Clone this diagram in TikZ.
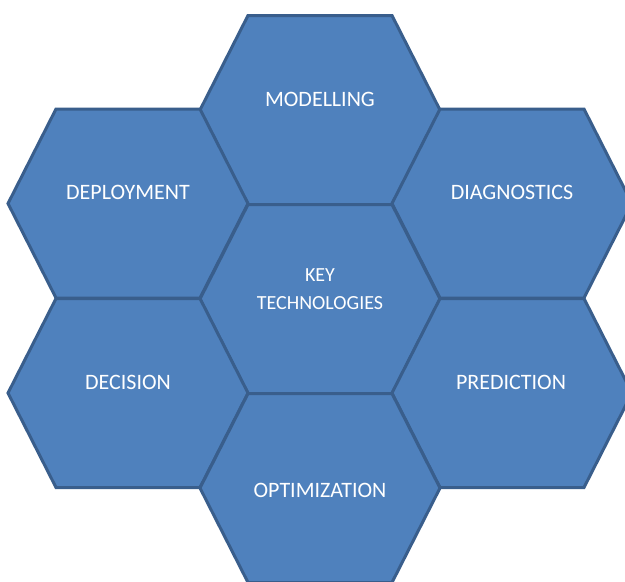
\documentclass[tikz,border=0pt]{standalone}
\usepackage{fontspec}
\setmainfont{Carlito}
\definecolor{cellfill}{HTML}{4F81BD}
\definecolor{celledge}{HTML}{395E8C}
\tikzset{
  hexcell/.style={fill=cellfill, draw=celledge, line width=3pt, line join=miter},
  celllabel/.style={text=white, inner sep=0pt, font=\fontsize{22}{26}\selectfont},
  corelabel/.style={text=white, inner sep=0pt, align=center, font=\fontsize{20}{28}\selectfont},
}
% honeycomb cell: centre (#1,#2); half width 120, half top edge 72, half height 94.5
\newcommand{\honeycell}[2]{%
  \draw[hexcell] (#1-72,#2-94.5) -- (#1+72,#2-94.5) -- (#1+120,#2) --
    (#1+72,#2+94.5) -- (#1-72,#2+94.5) -- (#1-120,#2) -- cycle;}
\begin{document}
\begin{tikzpicture}[x=1pt,y=-1pt]
  \useasboundingbox (0,0) rectangle (625,582);
  \clip (0,0) rectangle (625,582);
  % outer ring and core
  \honeycell{320}{110}
  \honeycell{128}{203.5}
  \honeycell{512}{203.5}
  \honeycell{320}{299}
  \honeycell{128}{393}
  \honeycell{512}{393}
  \honeycell{320}{488}
  % labels
  \node[celllabel] (modelling)   at (320,99)  {MODELLING};
  \node[celllabel] (deployment)  at (128,192) {DEPLOYMENT};
  \node[celllabel] (diagnostics) at (512,192) {DIAGNOSTICS};
  \node[corelabel] (core)        at (320,289) {KEY\\TECHNOLOGIES};
  \node[celllabel] (decision)    at (128,382) {DECISION};
  \node[celllabel] (prediction)  at (511,382) {PREDICTION};
  \node[celllabel] (optimization) at (320,490) {OPTIMIZATION};
\end{tikzpicture}
\end{document}
